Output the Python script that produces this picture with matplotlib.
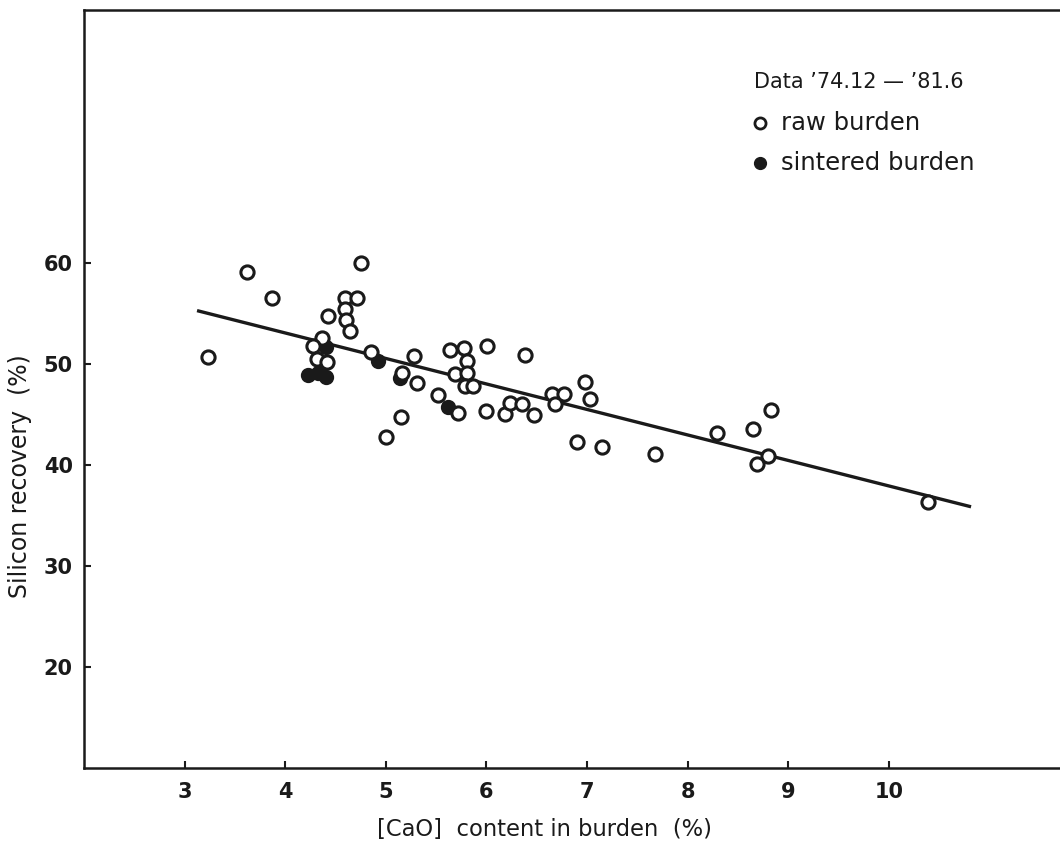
import matplotlib.pyplot as plt
import numpy as np

plt.rcParams['font.family'] = ['DejaVu Sans']

# raw burden (open circles)
raw_cao = [3.23, 3.62, 3.87, 4.75, 4.43, 4.59, 4.71, 4.59, 4.60, 4.64,
           4.37, 4.28, 4.32, 4.42, 4.85, 5.28, 5.16, 5.31, 5.15, 5.00,
           5.64, 5.78, 5.81, 5.69, 5.81, 5.79, 5.87, 6.01, 6.38, 5.52,
           5.72, 6.00, 6.18, 6.23, 6.35, 6.47, 6.65, 6.77, 6.68, 6.98,
           7.03, 6.90, 7.15, 7.68, 8.29, 8.65, 8.83, 8.80, 8.69, 10.39]
raw_si = [50.7, 59.05, 56.5, 60.0, 54.7, 56.5, 56.5, 55.4, 54.3, 53.2,
          52.6, 51.8, 50.5, 50.2, 51.2, 50.8, 49.1, 48.1, 44.7, 42.8,
          51.4, 51.6, 50.3, 49.0, 49.1, 47.8, 47.8, 51.8, 50.9, 46.9,
          45.1, 45.3, 45.0, 46.1, 46.0, 44.9, 47.0, 47.0, 46.0, 48.2,
          46.5, 42.3, 41.8, 41.1, 43.2, 43.5, 45.4, 40.9, 40.1, 36.3]

# sintered burden (filled circles)
sint_cao = [4.41, 4.23, 4.33, 4.41, 4.92, 5.14, 5.62]
sint_si = [51.7, 48.9, 49.1, 48.7, 50.3, 48.6, 45.7]

# regression line
fit_x = [3.14, 10.80]
fit_slope = -2.524
fit_icpt = 63.15

ink = '#1a1a1a'

fig = plt.figure(figsize=(10.6, 8.47), dpi=100)
ax = fig.add_axes([0.0792, 0.0933, 0.9208, 0.8947])

fx = np.array(fit_x)
ax.plot(fx, fit_icpt + fit_slope * fx, color=ink, lw=2.4, zorder=2)

ax.plot(sint_cao, sint_si, 'o', ms=9.5, mfc=ink, mec=ink, mew=1.5, zorder=3)
ax.plot(raw_cao, raw_si, 'o', ms=9.5, mfc='white', mec=ink, mew=2.2, zorder=4)

ax.set_xlim(2.0, 11.7)
ax.set_ylim(10, 85)
ax.set_xticks([3, 4, 5, 6, 7, 8, 9, 10])
ax.set_yticks([20, 30, 40, 50, 60])
ax.tick_params(direction='in', length=5, width=1.5, labelsize=15, colors=ink)
ax.tick_params(axis='x', pad=10)
ax.tick_params(axis='y', pad=8)
for lab in ax.get_xticklabels() + ax.get_yticklabels():
    lab.set_fontweight('bold')
for s in ['left', 'bottom', 'top']:
    ax.spines[s].set_linewidth(1.8)
    ax.spines[s].set_color(ink)
ax.spines['right'].set_visible(False)

ax.set_xlabel('[CaO]  content in burden  (%)', fontsize=16.3, color=ink)
ax.set_ylabel('Silicon recovery  (%)', fontsize=17, color=ink)
ax.xaxis.set_label_coords(0.472, -0.066)
ax.yaxis.set_label_coords(-0.053, 0.385)

# legend
ax.text(0.687, 0.905, "Data \u201974.12 \u2014 \u201981.6", transform=ax.transAxes,
        fontsize=15, va='center', ha='left', color=ink)
ax.plot([0.693], [0.851], 'o', transform=ax.transAxes, ms=8, mfc='white',
        mec=ink, mew=2.0, clip_on=False)
ax.text(0.714, 0.851, 'raw burden', transform=ax.transAxes,
        fontsize=17.5, va='center', ha='left', color=ink)
ax.plot([0.693], [0.798], 'o', transform=ax.transAxes, ms=8.5, mfc=ink,
        mec=ink, clip_on=False)
ax.text(0.714, 0.798, 'sintered burden', transform=ax.transAxes,
        fontsize=17.5, va='center', ha='left', color=ink)

fig.savefig('out.png', dpi=100)
